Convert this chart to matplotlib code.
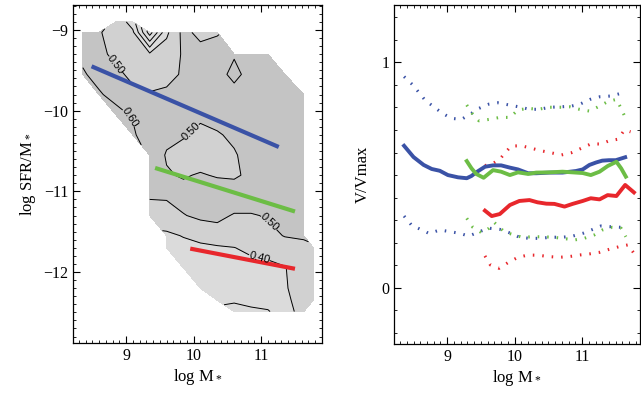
import numpy as np
import matplotlib
matplotlib.use("Agg")
import matplotlib.pyplot as plt
from matplotlib.ticker import MultipleLocator

plt.rcParams['font.family'] = 'Liberation Serif'
plt.rcParams['mathtext.fontset'] = 'custom'
plt.rcParams['mathtext.rm'] = 'Liberation Serif'
plt.rcParams['mathtext.default'] = 'regular'

n = np.nan

# V/Vmax map on a (log M*, log SFR/M*) grid
grid_mass = [8.36, 8.6, 8.85, 9.1, 9.35, 9.6, 9.85, 10.1, 10.35, 10.6, 10.85, 11.1, 11.35, 11.63, 11.77]
grid_ssfr = [-8.9, -9.03, -9.3, -9.55, -9.8, -10.05, -10.3, -10.55, -10.8, -11.05,
             -11.3, -11.55, -11.7, -11.95, -12.2, -12.35, -12.49]
vvmax_map = [
    [n, n, 0.48, 0.35, n, n, n, n, n, n, n, n, n, n, n],
    [0.56, 0.51, 0.45, 0.42, 0.05, 0.38, 0.53, 0.47, 0.49, n, n, n, n, n, n],
    [0.58, 0.53, 0.47, 0.44, 0.42, 0.45, 0.51, 0.54, 0.55, 0.59, 0.55, 0.53, n, n, n],
    [0.61, 0.57, 0.53, 0.47, 0.44, 0.45, 0.52, 0.55, 0.56, 0.63, 0.56, 0.55, 0.55, n, n],
    [n, 0.61, 0.57, 0.53, 0.51, 0.53, 0.55, 0.56, 0.56, 0.56, 0.56, 0.56, 0.55, 0.56, n],
    [n, n, 0.63, 0.59, 0.53, 0.54, 0.54, 0.53, 0.54, 0.55, 0.56, 0.55, 0.55, 0.54, n],
    [n, n, n, 0.62, 0.52, 0.53, 0.51, 0.46, 0.49, 0.52, 0.54, 0.55, 0.55, 0.55, n],
    [n, n, n, n, 0.58, 0.49, 0.46, 0.44, 0.45, 0.49, 0.54, 0.56, 0.56, 0.55, n],
    [n, n, n, n, 0.55, 0.51, 0.49, 0.51, 0.49, 0.48, 0.53, 0.56, 0.56, 0.55, n],
    [n, n, n, n, 0.51, 0.51, 0.54, 0.56, 0.57, 0.58, 0.58, 0.57, 0.57, 0.56, n],
    [n, n, n, n, 0.46, 0.47, 0.495, 0.52, 0.53, 0.49, 0.49, 0.51, 0.54, 0.55, n],
    [n, n, n, n, n, 0.38, 0.405, 0.43, 0.445, 0.45, 0.46, 0.47, 0.505, 0.51, n],
    [n, n, n, n, n, 0.36, 0.37, 0.38, 0.39, 0.398, 0.42, 0.43, 0.45, 0.48, 0.49],
    [n, n, n, n, n, n, 0.36, 0.35, 0.35, 0.36, 0.37, 0.38, 0.395, 0.46, 0.47],
    [n, n, n, n, n, n, n, 0.35, 0.36, 0.37, 0.37, 0.38, 0.39, 0.45, 0.46],
    [n, n, n, n, n, n, n, n, 0.32, 0.31, 0.33, 0.35, 0.38, 0.44, 0.46],
    [n, n, n, n, n, n, n, n, n, 0.27, 0.28, 0.29, 0.37, 0.43, n],
]
label_pos = [(8.84, -9.43), (9.06, -10.08), (9.92, -10.22), (11.13, -11.38), (10.99, -11.77)]

# sequence fits drawn over the map
blue_fit_x = [8.49, 11.26]
blue_fit_y = [-9.45, -10.45]
green_fit_x = [9.43, 11.50]
green_fit_y = [-10.71, -11.25]
red_fit_x = [9.95, 11.50]
red_fit_y = [-11.71, -11.96]

# V/Vmax vs mass
blue_x = [8.36, 8.50, 8.65, 8.77, 8.89, 9.01, 9.16, 9.29, 9.36, 9.43, 9.56, 9.68, 9.80, 9.93,
          10.05, 10.20, 10.32, 10.52, 10.71, 10.91, 11.01, 11.11, 11.21, 11.30, 11.40, 11.50, 11.64]
blue_y = [0.63, 0.58, 0.545, 0.527, 0.519, 0.50, 0.49, 0.486, 0.496, 0.512, 0.537, 0.543, 0.543, 0.533,
          0.525, 0.508, 0.508, 0.511, 0.511, 0.518, 0.525, 0.545, 0.556, 0.564, 0.566, 0.566, 0.579]
green_x = [9.29, 9.36, 9.43, 9.54, 9.68, 9.80, 9.93, 10.05, 10.20, 10.32, 10.52, 10.71, 10.91,
           11.01, 11.13, 11.26, 11.38, 11.51, 11.58, 11.65]
green_y = [0.562, 0.530, 0.505, 0.488, 0.522, 0.515, 0.500, 0.512, 0.505, 0.511, 0.512, 0.515, 0.511,
           0.509, 0.500, 0.515, 0.540, 0.559, 0.530, 0.493]
red_x = [9.56, 9.66, 9.78, 9.93, 10.07, 10.22, 10.34, 10.47, 10.59, 10.74, 10.86, 11.01, 11.13,
         11.26, 11.38, 11.51, 11.64, 11.77]
red_y = [0.342, 0.318, 0.327, 0.367, 0.385, 0.389, 0.379, 0.373, 0.372, 0.360, 0.372, 0.385, 0.397,
         0.392, 0.411, 0.407, 0.456, 0.423]

blue_hi_x = [8.36, 8.49, 8.67, 8.80, 8.93, 9.06, 9.21, 9.36, 9.47, 9.62, 9.75, 9.92, 10.06, 10.22,
             10.37, 10.52, 10.69, 10.84, 10.97, 11.12, 11.27, 11.43, 11.58]
blue_hi_y = [0.937, 0.900, 0.833, 0.803, 0.774, 0.752, 0.747, 0.774, 0.796, 0.815, 0.821, 0.811, 0.803,
             0.792, 0.792, 0.801, 0.803, 0.806, 0.815, 0.836, 0.848, 0.851, 0.863]
blue_lo_x = [8.36, 8.47, 8.73, 8.89, 9.04, 9.19, 9.32, 9.48, 9.62, 9.78, 9.95, 10.07, 10.22, 10.37,
             10.54, 10.71, 10.86, 11.01, 11.16, 11.28, 11.40, 11.58]
blue_lo_y = [0.318, 0.278, 0.241, 0.256, 0.249, 0.241, 0.229, 0.249, 0.264, 0.259, 0.241, 0.224, 0.219,
             0.219, 0.224, 0.224, 0.229, 0.241, 0.259, 0.274, 0.271, 0.268]
green_hi_x = [9.29, 9.38, 9.47, 9.62, 9.78, 9.93, 10.05, 10.20, 10.35, 10.52, 10.69, 10.82, 10.96,
              11.11, 11.26, 11.38, 11.51, 11.58, 11.64]
green_hi_y = [0.811, 0.769, 0.741, 0.747, 0.756, 0.756, 0.789, 0.796, 0.792, 0.801, 0.801, 0.803, 0.792,
              0.784, 0.806, 0.826, 0.836, 0.796, 0.756]
green_lo_x = [9.29, 9.38, 9.51, 9.62, 9.70, 9.83, 9.95, 10.11, 10.27, 10.42, 10.57, 10.71, 10.89,
              11.03, 11.18, 11.30, 11.45, 11.58, 11.65]
green_lo_y = [0.308, 0.268, 0.244, 0.264, 0.289, 0.253, 0.238, 0.224, 0.226, 0.226, 0.224, 0.219, 0.212,
              0.219, 0.234, 0.256, 0.268, 0.264, 0.226]
red_hi_x = [9.56, 9.68, 9.78, 9.85, 9.95, 10.10, 10.25, 10.39, 10.54, 10.69, 10.84, 10.99, 11.13,
            11.28, 11.40, 11.53, 11.63, 11.72]
red_hi_y = [0.542, 0.552, 0.570, 0.596, 0.629, 0.630, 0.619, 0.608, 0.599, 0.589, 0.599, 0.619, 0.638,
            0.638, 0.652, 0.659, 0.700, 0.692]
red_lo_x = [9.56, 9.64, 9.77, 9.90, 10.05, 10.20, 10.35, 10.51, 10.66, 10.81, 10.96, 11.11, 11.26,
            11.40, 11.55, 11.68, 11.77]
red_lo_y = [0.141, 0.101, 0.086, 0.111, 0.135, 0.145, 0.144, 0.138, 0.135, 0.138, 0.145, 0.150, 0.157,
            0.170, 0.182, 0.190, 0.153]

blue = '#3a52a6'
green = '#6cbd45'
red = '#e8272c'

fig = plt.figure(figsize=(6.41, 3.99), dpi=100)
ax1 = fig.add_axes([73 / 641, 1 - 343 / 399, 249 / 641, 338 / 399])
ax2 = fig.add_axes([394.3 / 641, 1 - 344 / 399, (640 - 394.3) / 641, 339 / 399])

# left: contour map
Z = np.ma.masked_invalid(np.array(vvmax_map))
ax1.contourf(grid_mass, grid_ssfr, Z, levels=[0, 0.4, 0.5, 1.0],
             colors=['#dbdbdb', '#d1d1d1', '#c4c4c4'])
ax1.contour(grid_mass, grid_ssfr, Z, levels=[0.1, 0.2, 0.3, 0.7],
            colors='black', linewidths=0.7)
cs = ax1.contour(grid_mass, grid_ssfr, Z, levels=[0.4, 0.5, 0.6],
                 colors='black', linewidths=0.7)
labels = ax1.clabel(cs, manual=label_pos, fmt='%.2f',
                    fontsize=8, inline=True, inline_spacing=2)
for t in labels:
    t.set_family('Liberation Sans')

ax1.plot(blue_fit_x, blue_fit_y, color=blue, lw=3, solid_capstyle='butt')
ax1.plot(green_fit_x, green_fit_y, color=green, lw=3, solid_capstyle='butt')
ax1.plot(red_fit_x, red_fit_y, color=red, lw=3, solid_capstyle='butt')

ax1.set_xlim(8.215, 11.9)
ax1.set_ylim(-12.88, -8.69)
ax1.xaxis.set_major_locator(MultipleLocator(1))
ax1.xaxis.set_minor_locator(MultipleLocator(0.1))
ax1.yaxis.set_major_locator(MultipleLocator(1))
ax1.yaxis.set_minor_locator(MultipleLocator(0.1))
ax1.set_xlabel('log M$_*$', fontsize=12, labelpad=2)
ax1.set_ylabel('log SFR/M$_*$', fontsize=12, labelpad=4)

# right: V/Vmax
dots = (0, (0.5, 2.6))
ax2.plot(blue_hi_x, blue_hi_y, color=blue, lw=2.2, ls=dots)
ax2.plot(blue_lo_x, blue_lo_y, color=blue, lw=2.2, ls=dots)
ax2.plot(green_hi_x, green_hi_y, color=green, lw=2.2, ls=dots)
ax2.plot(green_lo_x, green_lo_y, color=green, lw=2.2, ls=dots)
ax2.plot(red_hi_x, red_hi_y, color=red, lw=2.2, ls=dots)
ax2.plot(red_lo_x, red_lo_y, color=red, lw=2.2, ls=dots)
ax2.plot(blue_x, blue_y, color=blue, lw=2.8)
ax2.plot(green_x, green_y, color=green, lw=2.8)
ax2.plot(red_x, red_y, color=red, lw=2.8)

ax2.set_xlim(8.215, 11.86)
ax2.set_ylim(-0.25, 1.255)
ax2.xaxis.set_major_locator(MultipleLocator(1))
ax2.xaxis.set_minor_locator(MultipleLocator(0.1))
ax2.set_yticks([0, 1])
ax2.set_yticklabels(['0', '1'])
ax2.yaxis.set_minor_locator(MultipleLocator(0.1))
ax2.set_xlabel('log M$_*$', fontsize=12, labelpad=2)
ax2.set_ylabel('V/Vmax', fontsize=12, labelpad=8)

for ax in (ax1, ax2):
    ax.tick_params(which='both', direction='in', top=True, right=True, labelsize=11.5)
    ax.tick_params(which='major', length=5, width=0.8)
    ax.tick_params(which='minor', length=2.5, width=0.6)
    for s in ax.spines.values():
        s.set_linewidth(0.9)

fig.savefig('out.png', dpi=100)
